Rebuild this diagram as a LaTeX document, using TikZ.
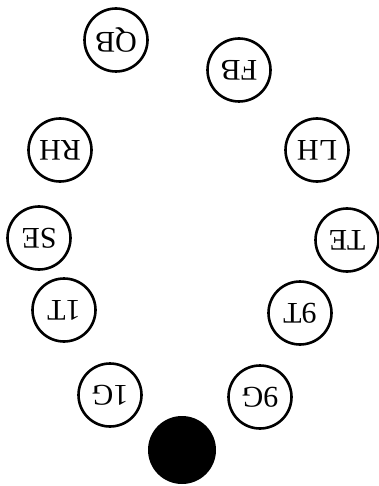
\documentclass[tikz,border=0pt]{standalone}
\usepackage{fontspec}
\setmainfont{Liberation Serif}
\begin{document}
\begin{tikzpicture}[x=1pt,y=-1pt,
  posnode/.style={circle,draw=black,line width=2.6pt,minimum size=63pt,inner sep=0pt,
    font=\fontsize{30}{30}\selectfont,rotate=180},
  ball/.style={circle,fill=black,minimum size=68pt,inner sep=0pt}]
\useasboundingbox (0,0) rectangle (379,486);
\node[posnode] (QB) at (116,40) {QB};
\node[posnode] (FB) at (239,70) {FB};
\node[posnode] (RH) at (60,150) {RH};
\node[posnode] (LH) at (317,150) {LH};
\node[posnode] (SE) at (39,238) {SE};
\node[posnode] (TE) at (347,240) {TE};
\node[posnode] (1T) at (64,310) {1T};
\node[posnode] (9T) at (300,313) {9T};
\node[posnode] (1G) at (110,395) {1G};
\node[posnode] (9G) at (260,397) {9G};
\node[ball] (ball) at (182,450) {};
\end{tikzpicture}
\end{document}
